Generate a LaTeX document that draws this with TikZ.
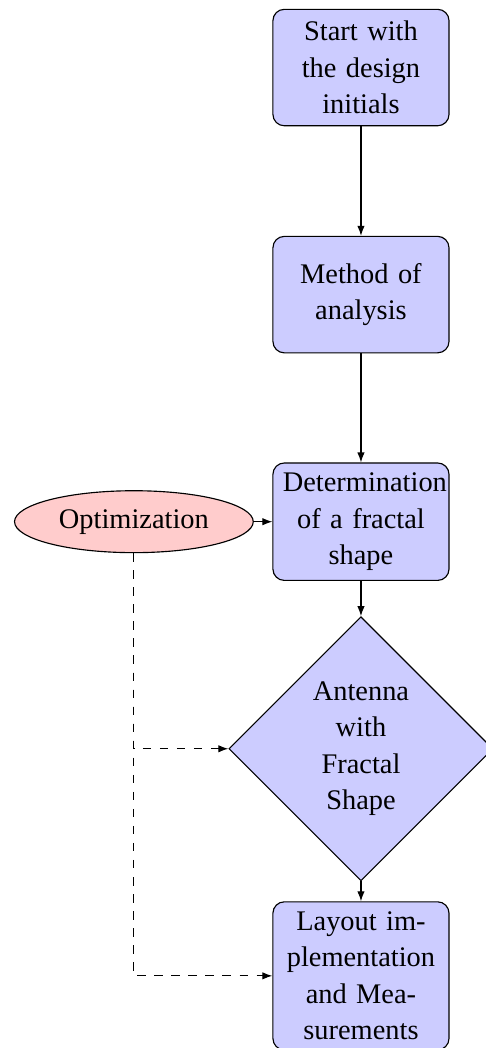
\documentclass[tikz,border=0pt]{standalone}
\usepackage{fontspec}
\setmainfont{Liberation Serif}
\usepackage{tikz}
\usetikzlibrary{shapes.geometric, arrows.meta}

\tikzset{
    block/.style={rectangle, draw, fill=blue!20, text width=55pt, align=center,
        rounded corners, minimum height=41pt, inner sep=3.5pt,
        font=\fontsize{10pt}{12.8pt}\selectfont},
    decision/.style={diamond, draw, fill=blue!20, text width=45pt, align=center,
        inner sep=0pt, minimum width=93pt, minimum height=93pt,
        font=\fontsize{10pt}{12.8pt}\selectfont},
    cloud/.style={ellipse, draw, fill=red!20, font=\fontsize{10pt}{12.8pt}\selectfont},
    line/.style={draw, -{Latex[length=3.5pt, width=2.6pt]}}
}

\begin{document}
\begin{tikzpicture}
    \useasboundingbox (-4.467,0.836) rectangle (1.546,-12.133);

    % Main chain of steps
    \node[block] (start) at (0,0) {Start with\\the design\\initials};
    \node[block] (method) at (0,-2.81) {Method of\\analysis};
    \node[block] (fractal) at (0,-5.62) {Determination\\of a fractal\\shape};
    \node[decision] (antenna) at (0,-8.43) {Antenna\\with\\Fractal\\Shape};
    \node[block] (layout) at (0,-11.24) {Layout im-\\plementation\\and Mea-\\surements};

    % Optimization on the left
    \node[cloud] (optim) at (-2.81,-5.62) {Optimization};

    % Solid arrows
    \path[line] (start) -- (method);
    \path[line] (method) -- (fractal);
    \path[line] (fractal) -- (antenna);
    \path[line] (antenna) -- (layout);
    \path[line] (optim) -- (fractal);

    % Dashed feedback lines
    \path[line, dashed] (optim) |- (antenna);
    \path[line, dashed] (optim) |- (layout);

\end{tikzpicture}
\end{document}
